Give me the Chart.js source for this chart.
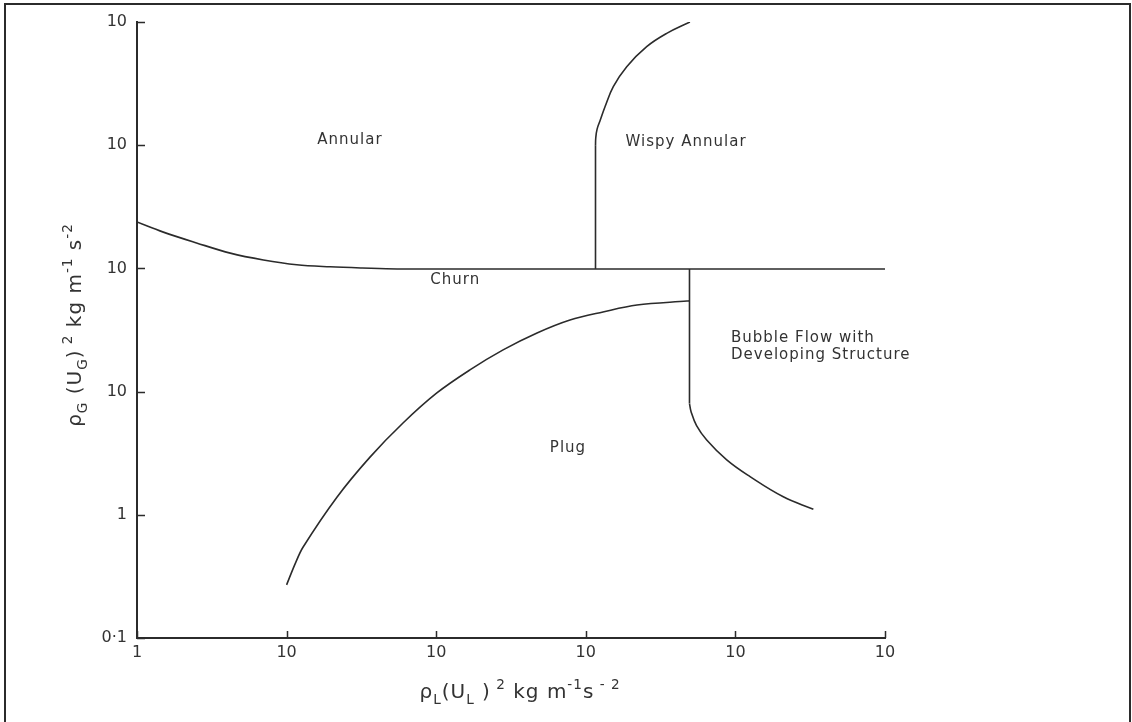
<!DOCTYPE html>
<html>
<head>
<meta charset="utf-8">
<title>Flow regime map</title>
<script src="https://cdn.jsdelivr.net/npm/chart.js@4"></script>
<style>
  html, body { margin: 0; padding: 0; background: #fff; }
  #wrap { width: 1132px; height: 722px; position: relative; }
</style>
</head>
<body>
<div id="wrap"><canvas id="regimeChart"></canvas></div>
<script>
// axis ticks (exponents are not legible in the source, so only "10" is shown)
const xTicks = [1, 10, 100, 1000, 10000, 100000];
const xTickLabels = ['1', '10', '10', '10', '10', '10'];
const yTicks = [0.1, 1, 10, 100, 1000, 10000];
const yTickLabels = ['0·1', '1', '10', '10', '10', '10'];

// regime boundaries
const annularX = [1, 1.5, 2.5, 4.2, 7, 11.7, 19.5, 32, 55, 100000];
const annularY = [238, 197, 161, 133, 117, 107, 103, 100.7, 99, 99];

// wispy annular: straight rise, then a bend to the top
const wispyStemX = [1161, 1161];
const wispyStemY = [99, 1000];
const wispyX = [1161, 1166, 1190, 1250, 1344, 1527, 1877, 2552, 3474, 4965];
const wispyY = [1000, 1150, 1350, 1600, 2050, 2985, 4340, 6310, 8090, 10000];

// bubble flow: straight drop, then a bend to the right
const bubbleStemX = [4933, 4933];
const bubbleStemY = [99, 8];
const bubbleX = [4933, 5050, 5500, 6430, 8750, 12530, 20900, 33200];
const bubbleY = [8, 6.9, 5.3, 4.05, 2.79, 2.04, 1.40, 1.11];

const plugX = [10, 11.4, 12.9, 21.7, 36.1, 60, 101, 168, 280, 472, 784, 1303, 2198, 4748, 4933];
const plugY = [0.27, 0.40, 0.548, 1.39, 2.94, 5.56, 9.75, 15.0, 21.8, 29.9, 38.1, 44.3, 50.4, 54.3, 54.5];

// region names and where they sit (data coordinates)
const regionNames = ['Annular', 'Wispy Annular', 'Churn', 'Bubble Flow with', 'Developing Structure', 'Plug'];
const regionX = [26.5, 4680, 134, 9350, 9350, 760];
const regionY = [1100, 1060, 80, 27.2, 19.8, 3.49];

const INK = '#2b2b2b';
const TEXT = '#333';
const FONT = '"DejaVu Sans", sans-serif';

function pairs(xs, ys) {
    return xs.map((x, i) => ({ x: x, y: ys[i] }));
}

function boundary(xs, ys, tension) {
    return {
        data: pairs(xs, ys),
        showLine: true,
        borderColor: INK,
        borderWidth: 1.6,
        pointRadius: 0,
        tension: tension,
        fill: false
    };
}

// draws a run of text pieces; sub/sup pieces are smaller and shifted
function richWidth(ctx, parts, size) {
    let w = 0;
    parts.forEach(p => {
        const s = p.mode ? size * 0.68 : size;
        ctx.font = s + 'px ' + FONT;
        w += ctx.measureText(p.t).width;
    });
    return w;
}

function drawRich(ctx, parts, x, y, size) {
    parts.forEach(p => {
        const s = p.mode ? size * 0.68 : size;
        ctx.font = s + 'px ' + FONT;
        let dy = 0;
        if (p.mode === 'sub') dy = size * 0.28;
        if (p.mode === 'sup') dy = -size * 0.45;
        ctx.fillText(p.t, x, y + dy);
        x += ctx.measureText(p.t).width;
    });
}

const xTitle = [
    { t: 'ρ' }, { t: 'L', mode: 'sub' }, { t: '(U' }, { t: 'L', mode: 'sub' }, { t: ' )' },
    { t: ' 2', mode: 'sup' }, { t: ' kg m' }, { t: '-1', mode: 'sup' }, { t: 's' }, { t: ' - 2', mode: 'sup' }
];
const yTitle = [
    { t: 'ρ' }, { t: 'G', mode: 'sub' }, { t: ' (U' }, { t: 'G', mode: 'sub' }, { t: ')' },
    { t: ' 2', mode: 'sup' }, { t: ' kg m' }, { t: '-1', mode: 'sup' }, { t: ' s' }, { t: '-2', mode: 'sup' }
];

const decorPlugin = {
    id: 'decor',
    afterDraw(chart) {
        const ctx = chart.ctx;
        const xs = chart.scales.x;
        const ys = chart.scales.y;
        const area = chart.chartArea;
        ctx.save();

        // outer frame of the figure
        ctx.strokeStyle = INK;
        ctx.lineWidth = 2;
        ctx.strokeRect(5, 4, 1125, 740);

        // tick marks point into the plot
        ctx.lineWidth = 1.5;
        ctx.beginPath();
        xs.ticks.forEach(t => {
            const px = Math.round(xs.getPixelForValue(t.value)) + 0.5;
            ctx.moveTo(px, area.bottom);
            ctx.lineTo(px, area.bottom - 7);
        });
        ys.ticks.forEach(t => {
            const py = Math.round(ys.getPixelForValue(t.value)) + 0.5;
            ctx.moveTo(area.left, py);
            ctx.lineTo(area.left + 8, py);
        });
        ctx.stroke();

        // region names
        ctx.fillStyle = TEXT;
        ctx.font = '15px ' + FONT;
        ctx.letterSpacing = '1px';
        ctx.textBaseline = 'middle';
        regionNames.forEach((name, i) => {
            const px = xs.getPixelForValue(regionX[i]);
            const py = ys.getPixelForValue(regionY[i]);
            ctx.textAlign = name.indexOf('Bubble') === 0 || name.indexOf('Developing') === 0 ? 'left' : 'center';
            ctx.fillText(name, px, py);
        });

        // axis titles
        ctx.textAlign = 'left';
        ctx.textBaseline = 'alphabetic';
        const size = 20;
        const wx = richWidth(ctx, xTitle, size);
        drawRich(ctx, xTitle, 520 - wx / 2, 698, size);

        const wy = richWidth(ctx, yTitle, size);
        ctx.translate(81, 325);
        ctx.rotate(-Math.PI / 2);
        drawRich(ctx, yTitle, -wy / 2, 0, size);
        ctx.restore();
    }
};

new Chart(document.getElementById('regimeChart'), {
    type: 'scatter',
    data: {
        datasets: [
            boundary(annularX, annularY, 0.35),
            boundary(wispyStemX, wispyStemY, 0),
            boundary(wispyX, wispyY, 0.4),
            boundary(bubbleStemX, bubbleStemY, 0),
            boundary(bubbleX, bubbleY, 0.4),
            boundary(plugX, plugY, 0.35)
        ]
    },
    options: {
        responsive: true,
        maintainAspectRatio: false,
        animation: false,
        layout: { padding: { top: 22, right: 247, left: 0, bottom: 0 } },
        plugins: {
            legend: { display: false },
            tooltip: { enabled: false }
        },
        scales: {
            x: {
                type: 'logarithmic',
                min: 1,
                max: 100000,
                afterBuildTicks: s => { s.ticks = xTicks.map(v => ({ value: v })); },
                afterFit: s => { s.height = 84; },
                grid: { display: false, drawTicks: false },
                border: { display: true, color: INK, width: 2 },
                ticks: {
                    color: TEXT,
                    padding: 5,
                    maxRotation: 0,
                    autoSkip: false,
                    font: { family: FONT, size: 16 },
                    callback: (v, i) => xTickLabels[i]
                }
            },
            y: {
                type: 'logarithmic',
                min: 0.1,
                max: 10000,
                afterBuildTicks: s => { s.ticks = yTicks.map(v => ({ value: v })); },
                afterFit: s => { s.width = 137; },
                grid: { display: false, drawTicks: false },
                border: { display: true, color: INK, width: 2 },
                ticks: {
                    color: TEXT,
                    padding: 10,
                    autoSkip: false,
                    font: { family: FONT, size: 16 },
                    callback: (v, i) => yTickLabels[i]
                }
            }
        }
    },
    plugins: [decorPlugin]
});
</script>
</body>
</html>
